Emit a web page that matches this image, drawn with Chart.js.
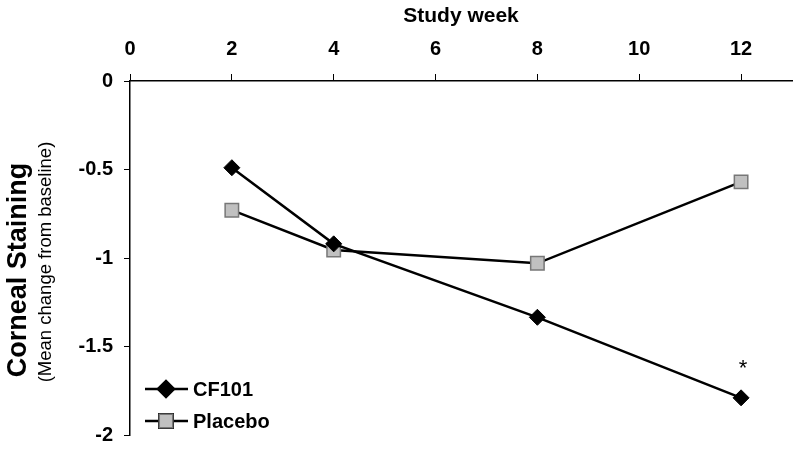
<!DOCTYPE html>
<html>
<head>
<meta charset="utf-8">
<script src="https://cdn.jsdelivr.net/npm/chart.js@4/dist/chart.umd.min.js"></script>
<style>
  body { margin: 0; background: #fff; }
</style>
</head>
<body>
<canvas id="myChart" width="800" height="453"></canvas>
<script>
// study weeks and mean change from baseline
const weeks = [2, 4, 8, 12];
const cf101 = [-0.49, -0.92, -1.335, -1.79];
const placebo = [-0.73, -0.955, -1.03, -0.57];
const xTicks = [0, 2, 4, 6, 8, 10, 12];
const yTicks = [0, -0.5, -1, -1.5, -2];

const FONT = "'Liberation Sans', Arial, sans-serif";

const toPoints = (vals) => weeks.map((w, i) => ({ x: w, y: vals[i] }));

// y title (two lines, different sizes), legend, asterisk
const extras = {
  id: "extras",
  afterDraw(chart) {
    const ctx = chart.ctx;
    const xs = chart.scales.x;
    const ys = chart.scales.y;
    ctx.save();

    // y axis titles
    ctx.fillStyle = "#000";
    ctx.textAlign = "center";
    ctx.textBaseline = "middle";
    ctx.translate(19, 270);
    ctx.rotate(-Math.PI / 2);
    ctx.font = "bold 27px " + FONT;
    ctx.fillText("Corneal Staining", 0, 0);
    ctx.font = "18.5px " + FONT;
    ctx.fillText("(Mean change from baseline)", 8, 27);
    ctx.setTransform(1, 0, 0, 1, 0, 0);

    // legend: line sample with marker
    const rows = [
      { label: "CF101", y: 389, ds: chart.data.datasets[0] },
      { label: "Placebo", y: 421, ds: chart.data.datasets[1] },
    ];
    rows.forEach((r) => {
      ctx.strokeStyle = "#000";
      ctx.lineWidth = 2.5;
      ctx.beginPath();
      ctx.moveTo(145, r.y);
      ctx.lineTo(188, r.y);
      ctx.stroke();
      Chart.helpers.drawPoint(ctx, {
        pointStyle: r.ds.pointStyle,
        radius: r.ds.pointRadius,
        borderWidth: r.ds.pointBorderWidth,
      }, 166, r.y);
      ctx.fillStyle = r.ds.pointBackgroundColor;
      ctx.strokeStyle = r.ds.pointBorderColor;
      ctx.lineWidth = r.ds.pointBorderWidth;
      ctx.fill();
      ctx.stroke();
      ctx.fillStyle = "#000";
      ctx.font = "bold 20px " + FONT;
      ctx.textAlign = "left";
      ctx.textBaseline = "middle";
      ctx.fillText(r.label, 193, r.y + 1);
    });

    // significance marker at week 12
    const sx = xs.getPixelForValue(weeks[3]);
    const sy = ys.getPixelForValue(cf101[3]);
    ctx.font = "22px " + FONT;
    ctx.textAlign = "center";
    ctx.fillText("*", sx + 2, sy - 29);

    ctx.restore();
  },
};

const ctx = document.getElementById("myChart");

const chart = new Chart(ctx, {
  type: "line",
  data: {
    datasets: [
      {
        label: "CF101",
        data: toPoints(cf101),
        borderColor: "#000",
        borderWidth: 2.5,
        pointStyle: "rectRot",
        pointRadius: 8,
        pointBackgroundColor: "#000",
        pointBorderColor: "#000",
        pointBorderWidth: 1,
      },
      {
        label: "Placebo",
        data: toPoints(placebo),
        borderColor: "#000",
        borderWidth: 2.5,
        pointStyle: "rect",
        pointRadius: 9.5,
        pointBackgroundColor: "#c0c0c0",
        pointBorderColor: "#777",
        pointBorderWidth: 1.5,
      },
    ],
  },
  options: {
    responsive: false,
    animation: false,
    layout: {
      autoPadding: false,
      padding: { left: 0, right: 8, top: 0, bottom: 18 },
    },
    plugins: {
      legend: { display: false },
      tooltip: { enabled: false },
    },
    scales: {
      x: {
        type: "linear",
        position: "top",
        min: 0,
        max: 13,
        afterBuildTicks: (scale) => {
          scale.ticks = xTicks.map((v) => ({ value: v }));
        },
        afterFit: (scale) => {
          scale.height = 81;
          scale.paddingLeft = 0;
          scale.paddingRight = 0;
        },
        grid: {
          drawOnChartArea: false,
          drawTicks: true,
          tickLength: 7,
          color: "#000",
        },
        border: { color: "#000", width: 1.5 },
        ticks: {
          color: "#000",
          padding: 13,
          callback: (v) => String(v),
          font: { family: FONT, size: 20, weight: "bold" },
        },
        title: {
          display: true,
          text: "Study week",
          color: "#000",
          padding: { top: 4, bottom: 0 },
          font: { family: FONT, size: 21, weight: "bold" },
        },
      },
      y: {
        type: "linear",
        min: -2,
        max: 0,
        afterBuildTicks: (scale) => {
          scale.ticks = yTicks.map((v) => ({ value: v }));
        },
        afterFit: (scale) => {
          scale.width = 130;
          scale.paddingTop = 0;
          scale.paddingBottom = 0;
        },
        grid: {
          drawOnChartArea: false,
          drawTicks: true,
          tickLength: 6,
          color: "#000",
        },
        border: { color: "#000", width: 1.5 },
        ticks: {
          color: "#000",
          padding: 11,
          callback: (v) => String(v),
          font: { family: FONT, size: 20, weight: "bold" },
        },
      },
    },
  },
  plugins: [extras],
});
</script>
</body>
</html>
